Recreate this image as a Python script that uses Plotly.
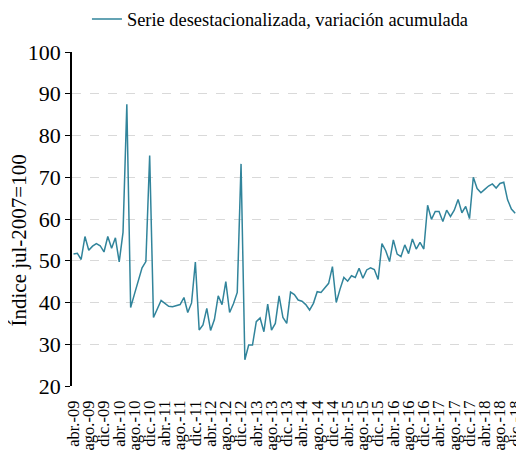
import plotly.graph_objects as go

months = ["ene.", "feb.", "mar.", "abr.", "may.", "jun.", "jul.", "ago.", "sep.", "oct.", "nov.", "dic."]

# Monthly series, abr.-09 .. dic.-18
values = [
    51.6, 51.8, 50.3, 55.8, 52.5, 53.5, 54.1, 53.6, 52.1, 55.8, 53.0, 55.5,
    49.7, 56.8, 87.5, 38.8, 42.0, 45.3, 48.3, 49.8, 75.2, 36.4, 38.5, 40.5,
    39.8, 39.1, 39.0, 39.2, 39.5, 41.2, 37.6, 39.9, 49.7, 33.4, 34.6, 38.6,
    33.3, 35.9, 41.6, 39.5, 45.0, 37.6, 39.7, 42.4, 73.2, 26.3, 29.8, 29.8,
    35.4, 36.3, 33.0, 39.6, 33.4, 35.0, 41.6, 36.4, 35.0, 42.5, 41.9, 40.6,
    40.3, 39.5, 38.2, 39.8, 42.6, 42.4, 43.4, 44.6, 48.6, 40.0, 43.2, 46.0,
    45.1, 46.4, 46.0, 48.2, 45.8, 47.8, 48.3, 47.9, 45.5, 54.1, 52.4, 49.8,
    55.0, 51.6, 51.0, 53.8, 51.7, 55.2, 52.8, 54.4, 52.8, 63.3, 59.9, 61.8,
    61.8, 59.4, 62.1, 60.6, 62.1, 64.7, 61.5, 63.0, 60.1, 70.0, 67.3, 66.3,
    67.1, 67.9, 68.4, 67.4, 68.5, 68.8, 64.6, 62.4, 61.4,
]

labels = []
m, y = 3, 9
for _ in values:
    labels.append(f"{months[m]}-{y:02d}")
    m += 1
    if m == 12:
        m, y = 0, y + 1

x = list(range(len(values)))
tickvals = x[::4]
ticktext = [labels[i] for i in tickvals]

series_name = "Serie desestacionalizada, variación acumulada"
y_title = "Índice jul-2007=100"
y_ticks = [20, 30, 40, 50, 60, 70, 80, 90, 100]

fig = go.Figure()
fig.add_trace(go.Scatter(
    x=x, y=values, mode="lines", name=series_name,
    line=dict(color="#31849B", width=1.5),
    showlegend=True,
))

font_family = "Liberation Serif"

# The page body adds an 8px offset; the figure is sized so that it fits the window.
fig.update_layout(
    width=516, height=442,
    margin=dict(l=64, r=5, t=44, b=64, autoexpand=False),
    paper_bgcolor="white", plot_bgcolor="white",
    font=dict(family=font_family, color="#000000", size=18),
    showlegend=True,
    legend=dict(
        orientation="h", xref="container", yref="container",
        x=0.153, xanchor="left", y=0.975, yanchor="middle",
        font=dict(size=18.4), bgcolor="rgba(0,0,0,0)",
    ),
    xaxis=dict(
        range=[-0.4, 117.0], automargin=False,
        tickmode="array", tickvals=tickvals, ticktext=ticktext,
        tickangle=-90, tickfont=dict(size=16.5), ticklabeloverflow="allow",
        showgrid=False, zeroline=False, showline=False,
        ticks="outside", ticklen=7, tickcolor="rgba(0,0,0,0)",
    ),
    yaxis=dict(
        range=[20, 100], tickvals=y_ticks, automargin=False,
        showgrid=True, gridcolor="#D9D9D9", griddash="dash", gridwidth=1.3,
        zeroline=False, showline=True, linecolor="#000000", linewidth=1.5,
        ticks="outside", ticklen=5, tickcolor="#000000", tickwidth=1.3,
        tickfont=dict(size=22),
    ),
    annotations=[dict(
        text=y_title, textangle=-90, showarrow=False,
        xref="paper", yref="paper", x=-0.1175, y=0.437,
        xanchor="center", yanchor="middle", font=dict(size=21),
    )],
)

fig.write_html("out.html")
